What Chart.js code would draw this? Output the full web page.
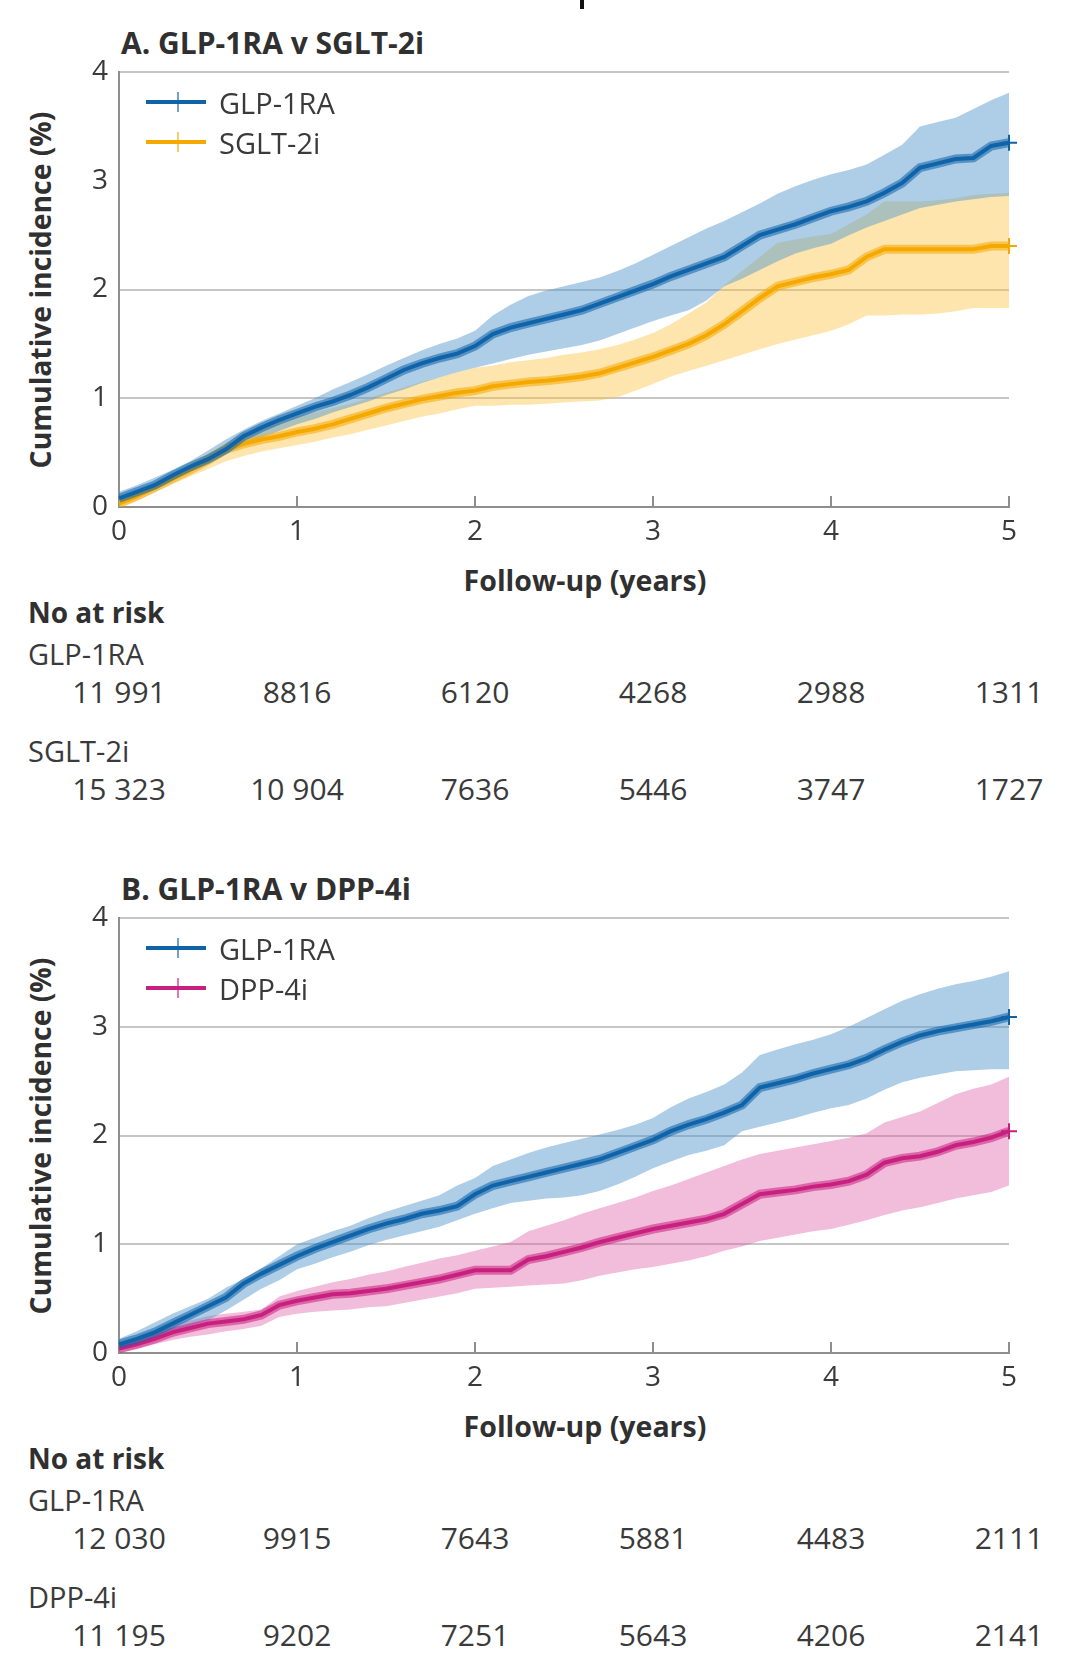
<!DOCTYPE html>
<html>
<head>
<meta charset="utf-8">
<script src="https://cdn.jsdelivr.net/npm/chart.js@4.4.1/dist/chart.umd.min.js"></script>
<style>
  body { margin: 0; background: #fff; }
  #page { position: relative; width: 1080px; height: 1677px; overflow: hidden; background: #fff;
          font-family: 'Open Sans', sans-serif; color: #3a3a3a; }
  .txt { position: absolute; transform: translateY(-50%); line-height: 1; font-size: 28px; white-space: nowrap; }
  .ctr { transform: translate(-50%, -50%); }
  .num { font-size: 30px; }
  .head { font-size: 30px; }
  .leg { font-size: 29px; }
  .bold { font-weight: 700; color: #303030; }
  .xtitle { font-size: 28.5px; }
  .ytitle { transform: translate(-50%, -50%) rotate(-90deg); font-size: 28.3px; }
  .key { position: absolute; height: 4px; transform: translateY(-50%); }
  .key i { position: absolute; left: 31px; top: -8px; width: 2px; height: 20px; opacity: 0.6; }
  canvas { position: absolute; left: 0; }
</style>
</head>
<body>
<div id="page"></div>
<script>
// follow-up grid (years) shared by every curve
const followUpYears = [0,0.1,0.2,0.3,0.4,0.5,0.6,0.7,0.8,0.9,1,1.1,1.2,1.3,1.4,1.5,1.6,1.7,1.8,1.9,2,
  2.1,2.2,2.3,2.4,2.5,2.6,2.7,2.8,2.9,3,3.1,3.2,3.3,3.4,3.5,3.6,3.7,3.8,3.9,4,
  4.1,4.2,4.3,4.4,4.5,4.6,4.7,4.8,4.9,5];

// panel A: GLP-1RA v SGLT-2i (cumulative incidence, %)
const glpA = [0.08,0.14,0.20,0.29,0.37,0.44,0.53,0.65,0.73,0.80,0.86,0.92,0.97,1.03,1.10,1.18,1.26,1.32,1.37,1.41,1.48,
  1.59,1.65,1.69,1.73,1.77,1.81,1.87,1.93,1.99,2.05,2.12,2.18,2.24,2.30,2.40,2.50,2.55,2.60,2.66,2.72,
  2.76,2.81,2.89,2.98,3.12,3.16,3.20,3.21,3.32,3.35];
const glpAHigh = [0.14,0.20,0.27,0.34,0.42,0.52,0.62,0.71,0.79,0.86,0.93,1.00,1.08,1.15,1.22,1.30,1.37,1.44,1.50,1.55,1.62,
  1.76,1.86,1.94,1.99,2.03,2.07,2.11,2.17,2.24,2.32,2.40,2.48,2.56,2.63,2.71,2.79,2.88,2.95,3.01,3.06,
  3.10,3.15,3.24,3.33,3.50,3.54,3.58,3.66,3.74,3.81];
const glpALow = [0.02,0.08,0.16,0.24,0.32,0.40,0.49,0.56,0.64,0.70,0.76,0.81,0.87,0.92,0.97,1.03,1.08,1.14,1.19,1.24,1.28,
  1.32,1.36,1.40,1.43,1.46,1.49,1.53,1.59,1.65,1.71,1.76,1.81,1.90,2.03,2.10,2.18,2.26,2.33,2.38,2.42,
  2.50,2.57,2.63,2.69,2.75,2.78,2.81,2.83,2.85,2.86];
const sgltA = [0.03,0.10,0.18,0.26,0.34,0.43,0.53,0.58,0.62,0.65,0.69,0.72,0.76,0.81,0.86,0.91,0.95,0.99,1.02,1.05,1.07,
  1.11,1.13,1.15,1.16,1.18,1.20,1.23,1.28,1.33,1.38,1.44,1.50,1.58,1.68,1.80,1.92,2.03,2.07,2.11,2.14,
  2.18,2.30,2.37,2.37,2.37,2.37,2.37,2.37,2.40,2.40];
const sgltAHigh = [0.06,0.14,0.22,0.30,0.39,0.49,0.59,0.68,0.73,0.78,0.83,0.87,0.91,0.95,1.00,1.05,1.10,1.15,1.19,1.24,1.28,
  1.30,1.33,1.35,1.37,1.40,1.42,1.45,1.49,1.54,1.60,1.68,1.78,1.88,2.04,2.17,2.30,2.43,2.46,2.49,2.51,
  2.60,2.69,2.81,2.81,2.81,2.82,2.84,2.87,2.88,2.89];
const sgltALow = [0.00,0.06,0.13,0.21,0.28,0.35,0.42,0.47,0.51,0.54,0.57,0.60,0.64,0.67,0.71,0.75,0.79,0.83,0.86,0.90,0.93,
  0.93,0.94,0.94,0.95,0.96,0.97,0.98,1.01,1.07,1.13,1.20,1.25,1.30,1.35,1.40,1.45,1.50,1.54,1.58,1.62,
  1.68,1.76,1.76,1.77,1.77,1.78,1.80,1.83,1.83,1.83];

// panel B: GLP-1RA v DPP-4i
const glpB = [0.08,0.13,0.19,0.27,0.35,0.43,0.51,0.64,0.73,0.81,0.89,0.96,1.02,1.08,1.14,1.19,1.23,1.28,1.31,1.35,1.46,
  1.54,1.58,1.62,1.66,1.70,1.74,1.78,1.84,1.90,1.96,2.04,2.10,2.15,2.21,2.28,2.44,2.48,2.52,2.57,2.61,
  2.65,2.71,2.79,2.86,2.92,2.96,2.99,3.02,3.05,3.09];
const glpBHigh = [0.13,0.20,0.28,0.36,0.43,0.50,0.60,0.68,0.78,0.89,1.00,1.06,1.12,1.17,1.24,1.30,1.35,1.40,1.45,1.54,1.61,
  1.72,1.78,1.84,1.89,1.93,1.97,2.01,2.05,2.10,2.16,2.26,2.34,2.40,2.47,2.58,2.74,2.79,2.84,2.88,2.93,
  3.00,3.08,3.16,3.24,3.30,3.35,3.39,3.42,3.46,3.51];
const glpBLow = [0.04,0.09,0.14,0.19,0.25,0.30,0.39,0.49,0.59,0.67,0.77,0.82,0.88,0.93,0.99,1.04,1.08,1.12,1.16,1.22,1.28,
  1.33,1.38,1.40,1.42,1.43,1.45,1.49,1.55,1.62,1.70,1.76,1.82,1.86,1.91,2.04,2.08,2.12,2.16,2.21,2.25,
  2.28,2.34,2.42,2.49,2.53,2.56,2.59,2.60,2.61,2.61];
const dppB = [0.04,0.08,0.13,0.19,0.23,0.27,0.29,0.31,0.35,0.44,0.48,0.51,0.54,0.55,0.57,0.59,0.62,0.65,0.68,0.72,0.76,
  0.76,0.76,0.86,0.89,0.93,0.97,1.02,1.06,1.10,1.14,1.17,1.20,1.23,1.28,1.37,1.46,1.48,1.50,1.53,1.55,
  1.58,1.64,1.75,1.79,1.81,1.85,1.91,1.94,1.98,2.04];
const dppBHigh = [0.07,0.13,0.20,0.26,0.30,0.34,0.36,0.38,0.40,0.52,0.57,0.61,0.65,0.68,0.72,0.75,0.79,0.83,0.87,0.90,0.94,
  0.98,1.02,1.12,1.17,1.22,1.28,1.33,1.38,1.43,1.49,1.54,1.60,1.66,1.72,1.78,1.83,1.86,1.89,1.92,1.95,
  1.98,2.02,2.12,2.17,2.22,2.30,2.38,2.43,2.47,2.54];
const dppBLow = [0.00,0.04,0.08,0.12,0.15,0.17,0.20,0.22,0.25,0.33,0.36,0.38,0.39,0.40,0.42,0.43,0.46,0.49,0.52,0.55,0.59,
  0.60,0.61,0.62,0.63,0.64,0.67,0.71,0.74,0.77,0.79,0.82,0.85,0.89,0.94,0.98,1.03,1.06,1.09,1.12,1.14,
  1.18,1.22,1.27,1.31,1.34,1.38,1.42,1.45,1.48,1.54];

// numbers at risk
const riskYears = [0, 1, 2, 3, 4, 5];
const riskGlpA = [11991, 8816, 6120, 4268, 2988, 1311];
const riskSgltA = [15323, 10904, 7636, 5446, 3747, 1727];
const riskGlpB = [12030, 9915, 7643, 5881, 4483, 2111];
const riskDppB = [11195, 9202, 7251, 5643, 4206, 2141];

const blue = { core: '#0f63a8', halo: 'rgba(15,99,168,0.55)', band: 'rgba(82,150,205,0.47)' };
const orange = { core: '#f5a900', halo: 'rgba(245,169,0,0.55)', band: 'rgba(250,192,60,0.42)' };
const pink = { core: '#c8207f', halo: 'rgba(200,32,127,0.55)', band: 'rgba(222,90,165,0.40)' };
const axisGrey = '#8e8e8e';
const gridGrey = '#c6c6c6';

Chart.defaults.font.family = "'Open Sans', sans-serif";
Chart.defaults.color = '#3a3a3a';

const pts = vals => followUpYears.map((t, i) => ({ x: t, y: vals[i] }));
const last = followUpYears.length - 1;

function coreLine(vals, c) {
  return { data: pts(vals), borderColor: c.core, borderWidth: 4, fill: false, clip: false,
    pointStyle: 'cross', pointRadius: ctx => ctx.dataIndex === last ? 8 : 0,
    pointBorderColor: c.core, pointBorderWidth: 2 };
}
function haloLine(vals, c) {
  return { data: pts(vals), borderColor: c.halo, borderWidth: 9, fill: false, pointRadius: 0 };
}
function bandEdge(vals, c, filled) {
  return { data: pts(vals), borderColor: 'rgba(0,0,0,0)', borderWidth: 0, pointRadius: 0,
    backgroundColor: c.band, fill: filled ? '+1' : false };
}

// small tick marks pointing up into the plot
const innerTicks = {
  id: 'innerTicks',
  afterDraw(chart) {
    const { ctx, chartArea, scales: { x } } = chart;
    ctx.save();
    ctx.strokeStyle = axisGrey;
    ctx.lineWidth = 2;
    x.ticks.forEach(t => {
      if (t.value === 0) return;
      const px = x.getPixelForValue(t.value);
      ctx.beginPath();
      ctx.moveTo(px, chartArea.bottom);
      ctx.lineTo(px, chartArea.bottom - 11);
      ctx.stroke();
    });
    ctx.restore();
  }
};

const fmt = n => { const s = String(n); return s.length > 4 ? s.slice(0, -3) + ' ' + s.slice(-3) : s; };

function add(cls, text, left, top) {
  const d = document.createElement('div');
  d.className = cls;
  d.textContent = text;
  d.style.left = left + 'px';
  d.style.top = top + 'px';
  document.getElementById('page').appendChild(d);
  return d;
}

function buildPanel(p) {
  const top = p.offset;
  add('txt bold head', p.title, 121, top + 43);
  add('txt bold ytitle', 'Cumulative incidence (%)', 40, top + 290);
  add('txt bold ctr xtitle', 'Follow-up (years)', 585, top + 580);
  add('txt bold', 'No at risk', 28, top + 612);
  add('txt leg', p.names[0], 28, top + 653);
  add('txt leg', p.names[1], 28, top + 750);

  const canvas = document.createElement('canvas');
  canvas.width = 1080;
  canvas.height = 600;
  canvas.style.top = top + 'px';
  document.getElementById('page').appendChild(canvas);

  const hidden = p.hiddenGrid || [];
  const chart = new Chart(canvas.getContext('2d'), {
    type: 'line',
    data: {
      datasets: [
        coreLine(p.ref, blue), haloLine(p.ref, blue),
        coreLine(p.cmp, p.color), haloLine(p.cmp, p.color),
        bandEdge(p.refHigh, blue, true), bandEdge(p.refLow, blue, false),
        bandEdge(p.cmpHigh, p.color, true), bandEdge(p.cmpLow, p.color, false)
      ]
    },
    options: {
      responsive: false,
      animation: false,
      devicePixelRatio: 1,
      layout: { padding: { left: 59, top: 72, right: 71, bottom: 33 } },
      plugins: { legend: { display: false }, tooltip: { enabled: false } },
      scales: {
        x: {
          type: 'linear', min: 0, max: 5,
          ticks: { stepSize: 1, padding: 8, font: { size: 28 }, color: '#3a3a3a' },
          grid: { color: 'rgba(0,0,0,0)', drawTicks: false },
          border: { color: axisGrey, width: 2 },
          afterFit: s => { s.height = 60; }
        },
        y: {
          min: 0, max: 4,
          ticks: { stepSize: 1, padding: 11, font: { size: 28 }, color: '#3a3a3a' },
          grid: { color: ctx => hidden.includes(ctx.tick.value) ? 'rgba(0,0,0,0)' : gridGrey,
                  lineWidth: 2, drawTicks: false },
          border: { color: axisGrey, width: 2 },
          afterFit: s => { s.width = 60; }
        }
      }
    },
    plugins: [innerTicks]
  });

  // legend
  [[p.names[0], blue, 102], [p.names[1], p.color, 142]].forEach(([name, c, y]) => {
    const k = add('key', '', 146, top + y);
    k.style.width = '60px';
    k.style.background = c.core;
    const i = document.createElement('i');
    i.style.background = c.core;
    k.appendChild(i);
    add('txt leg', name, 219, top + y);
  });

  // numbers at risk, placed under the x scale ticks
  const x = chart.scales.x;
  riskYears.forEach((t, i) => {
    const px = x.getPixelForValue(t);
    add('txt ctr num', fmt(p.risk[0][i]), px, top + 692);
    add('txt ctr num', fmt(p.risk[1][i]), px, top + 789);
  });
}

buildPanel({
  offset: 0, title: 'A. GLP-1RA v SGLT-2i', names: ['GLP-1RA', 'SGLT-2i'], color: orange,
  ref: glpA, refHigh: glpAHigh, refLow: glpALow,
  cmp: sgltA, cmpHigh: sgltAHigh, cmpLow: sgltALow,
  risk: [riskGlpA, riskSgltA], hiddenGrid: [3]
});
buildPanel({
  offset: 846, title: 'B. GLP-1RA v DPP-4i', names: ['GLP-1RA', 'DPP-4i'], color: pink,
  ref: glpB, refHigh: glpBHigh, refLow: glpBLow,
  cmp: dppB, cmpHigh: dppBHigh, cmpLow: dppBLow,
  risk: [riskGlpB, riskDppB]
});

// clipped glyph at the very top of the figure
const mark = document.createElement('div');
Object.assign(mark.style, { position: 'absolute', left: '580px', top: '0px', width: '4px', height: '9px', background: '#111' });
document.getElementById('page').appendChild(mark);
</script>
</body>
</html>
